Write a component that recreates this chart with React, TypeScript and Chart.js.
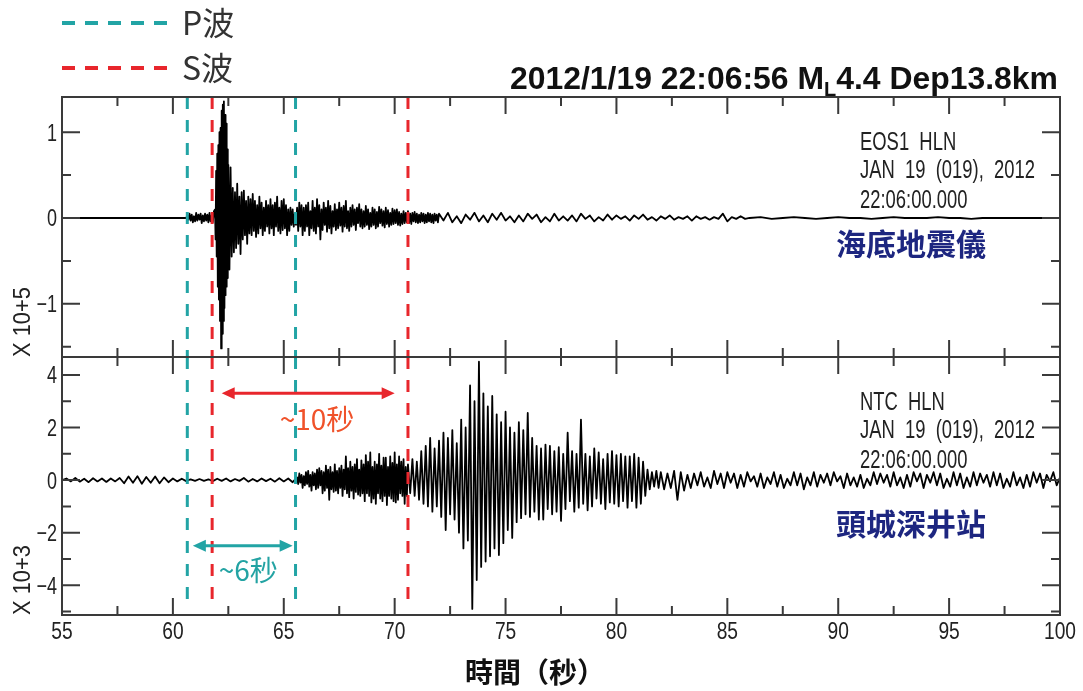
import React, { useEffect, useRef } from 'react';
import { Chart, registerables } from 'chart.js';

Chart.register(...registerables);

// ================= DATA =================
// x axis (seconds)
const timeLimits = [55, 100];
const timeTickStep = 2.5;
const timeMajorEvery = 5;
// y axes
const topLimits = [-1.62, 1.41]; // x10^5
const topTickStep = 0.5;
const bottomLimits = [-5.13, 4.68]; // x10^3
const bottomTickStep = 1;
// phase picks (s)
const pArrivals = [60.65, 65.53];
const sArrivals = [61.77, 70.6];
const markerBottomEnd = -4.55;

// EOS1 HLN (ocean-bottom seismometer), values x10^5, segments [start, step, values]
const eosQuiet = [0, 0, 0, 0, 0, 0, 0, 0, 0, 0, 0, 0];
const eosPWave = [0, 0.03, -0.02, 0.05, -0.03, 0.04, -0.05, 0.02, -0.04, 0.06, -0.03, 0.04, -0.02, 0.05, -0.06, 0.03, -0.04, 0.05, -0.03, 0.04, -0.05, 0.06, -0.04, 0.03, -0.05, 0.08];
const eosBurst = [0.1, -0.25, 0.55, -0.45, 0.75, -0.8, 0.85, -0.95, 1.0, -1.2, 1.05, -1.52, 1.25, -1.35, 1.32, -1.2, 1.36, -1.05, 1.2, -0.9, 1.1, -0.8, 0.8, -0.7];
const eosCodaA = [
  0.62, -0.6, 0.59, -0.45, 0.35, -0.4, 0.3, -0.35, 0.4, -0.3,
  0.25, -0.42, 0.3, -0.25, 0.32, -0.2, 0.2, -0.3, 0.25, -0.18,
  0.22, -0.2, 0.28, -0.15, 0.2, -0.22, 0.15, -0.18, 0.25, -0.12,
  0.18, -0.2, 0.12, -0.15, 0.2, -0.1, 0.15, -0.18, 0.22, -0.12,
  0.15, -0.2, 0.18, -0.1, 0.25, -0.15, 0.12, -0.18, 0.2, -0.14,
  0.22, -0.12, 0.15, -0.2, 0.1, -0.15, 0.12, -0.08, 0.1, -0.1,
  0.05, -0.08, 0.12, -0.15, 0.18, -0.1, 0.15, -0.2, 0.12, -0.15,
];
const eosCodaB = [
  0.15, -0.1, 0.18, -0.2, 0.08, -0.12, 0.2, -0.15, 0.12, -0.18,
  0.22, -0.1, 0.15, -0.25, 0.1, -0.14, 0.18, -0.08, 0.12, -0.16,
  0.2, -0.12, 0.14, -0.18, 0.08, -0.1, 0.16, -0.14, 0.1, -0.12,
  0.18, -0.09, 0.12, -0.16, 0.14, -0.1, 0.2, -0.12, 0.08, -0.15,
  0.12, -0.1, 0.15, -0.08, 0.1, -0.14, 0.12, -0.06, 0.16, -0.1,
  0.1, -0.12, 0.08, -0.1, 0.14, -0.08, 0.1, -0.13, 0.06, -0.1,
  0.12, -0.08, 0.1, -0.12, 0.07, -0.1, 0.13, -0.06, 0.1, -0.09,
  0.08, -0.11, 0.12, -0.07, 0.09, -0.1, 0.06, -0.08, 0.11, -0.07,
  0.09, -0.06, 0.1, -0.08, 0.07, -0.09, 0.05, -0.07, 0.08, -0.06,
  0.06, -0.05, 0.08, -0.06, 0.05, -0.07, 0.06, -0.04, 0.07, -0.05,
  0.05, -0.06, 0.04, -0.05, 0.06, -0.04, 0.05, -0.06, 0.04, -0.05,
  0.06, -0.04, 0.05, -0.05, 0.04, -0.06, 0.05, -0.03, 0.04, -0.05,
];
const eosCodaC = [
  0.05, -0.03, 0.06, -0.05, 0.02, -0.06, 0.04, -0.02, 0.06, -0.04,
  0.03, -0.05, 0.05, -0.02, 0.06, -0.03, 0.02, -0.05, 0.03, -0.04,
  0.05, -0.01, 0.04, -0.05, 0.01, -0.04, 0.05, -0.03, 0.02, -0.03,
  0.03, -0.04, 0.05, -0.01, 0.03, -0.04, 0.01, -0.03, 0.04, -0.02,
  0.03, -0.01, 0.02, -0.03, 0.03, -0.01, 0.04, -0.02, 0.01, -0.03,
  0.02, -0.01, 0.03, -0.02, 0.01, -0.01, 0.02, -0.03, 0.02, -0.01,
  0.01, -0.02, 0.01, -0.01, 0.05, -0.04, 0.01, -0.01, 0.02, -0.01,
];
const eosTail = [0, 0.01, -0.01, 0, 0.01, 0, -0.01, 0, 0.01, 0, 0, -0.01, 0, 0.01, 0, 0, 0, 0.01, 0, 0, -0.01, 0, 0, 0, 0, 0, 0, 0, 0];

// NTC HLN (deep-well station), values x10^3
const ntcQuiet = [
  0, 0.06, -0.05, 0.08, -0.06, 0.05, -0.08, 0.07, -0.05, 0.06,
  -0.07, 0.06, -0.05, 0.08, -0.12, 0.14, -0.1, 0.15, -0.14, 0.12,
  -0.1, 0.14, -0.12, 0.1, -0.08, 0.06, -0.05, 0.05, -0.04, 0.03,
  -0.03, 0.04, -0.03, 0.03, -0.04, 0.05, -0.03, 0.06, -0.05, 0.04,
  -0.03, 0.08, -0.06, 0.04, -0.05, 0.06, -0.04, 0.05, -0.06, 0.07,
  -0.05, 0.06, -0.08,
];
const ntcPCoda = [
  0.1, -0.15, 0.25, -0.1, 0.2, -0.3, 0.15, -0.2, 0.3, -0.15,
  0.35, -0.25, 0.2, -0.4, 0.3, -0.2, 0.25, -0.35, 0.4, -0.3,
  0.45, -0.2, 0.35, -0.5, 0.3, -0.4, 0.55, -0.3, 0.4, -0.75,
  0.5, -0.35, 0.3, -0.45, 0.6, -0.4, 0.35, -0.5, 0.45, -0.3,
  0.55, -0.6, 0.4, -0.35, 0.9, -0.5, 0.45, -0.65, 0.7, -0.4,
  0.5, -0.7, 0.6, -0.45, 0.8, -0.55, 0.4, -0.6, 0.75, -0.5,
  0.6, -0.8, 0.95, -0.5, 0.7, -0.6, 1.05, -0.85, 0.5, -0.7,
  0.7, -0.9, 0.6, -0.5, 1.0, -0.7, 0.55, -0.8, 0.85, -0.6,
  0.85, -0.95, 0.5, -0.6, 0.9, -0.7, 0.65, -0.8, 1.05, -0.85,
  0.6, -0.75, 0.9, -0.5, 0.7, -0.6, 0.8, -0.9, 0.5, -0.6,
];
const ntcSWave = [
  0.6, -0.5, 0.8, -0.6, 0.7, -0.75, 1.1, -0.9, 1.3, -1.0,
  1.6, -1.2, 1.2, -1.0, 1.5, -1.4, 1.8, -1.9, 1.6, -1.3,
  1.9, -1.5, 1.4, -2.0, 2.3, -2.6, 2.0, -2.3, 3.6, -4.9,
  3.0, -3.8, 4.5, -3.3, 3.3, -3.1, 2.8, -2.9, 3.2, -2.6,
  2.5, -2.85, 2.2, -2.4, 2.6, -1.9, 2.0, -2.2, 1.8, -1.6,
  2.2, -1.45, 1.9, -1.3, 2.55, -1.4, 1.6, -1.2, 1.3, -1.5,
  1.2, -1.5, 1.35, -1.1, 1.3, -1.3, 1.1, -1.2, 1.25, -1.55,
  1.0, -1.1, 1.8, -0.8, 1.1, -1.2, 1.0, -1.05, 2.3, -0.9,
  1.0, -1.15, 0.9, -1.0, 1.2, -0.7, 1.05, -0.9, 0.8, -1.1,
  1.0, -0.85, 1.1, -0.9, 0.95, -1.0, 1.0, -0.8, 0.9, -1.05,
  0.9, -0.8, 1.0, -1.05, 0.85, -0.9, 0.7, -0.6, 0.4, -0.35,
  0.3, -0.25, 0.35, -0.3,
];
const ntcTail = [
  0.3, -0.35, 0.25, -0.3, 0.35, -0.75, 0.3, -0.4, 0.2, -0.3,
  0.25, -0.2, 0.3, -0.25, 0.1, -0.3, 0.35, -0.15, 0.25, -0.3,
  0.3, -0.1, 0.25, -0.3, 0.2, -0.25, 0.3, -0.05, 0.15, -0.25,
  0.25, -0.3, 0.1, -0.15, 0.3, -0.25, 0.2, -0.3, 0.05, -0.2,
  0.3, -0.2, 0.25, -0.35, 0.1, -0.2, 0.3, -0.25, 0.2, -0.1,
  0.25, -0.2, 0.3, -0.05, 0.15, -0.3, 0.25, -0.2, 0.1, -0.25,
  0.2, -0.3, 0.05, -0.2, 0.3, -0.15, 0.25, -0.1, 0.2, -0.25,
  0.3, -0.2, 0.1, -0.3, 0.2, -0.25, 0.3, -0.05, 0.25, -0.3,
  0.2, -0.1, 0.3, -0.2, 0.25, -0.3, 0.05, -0.25, 0.3, -0.2,
  0.25, -0.3, 0.1, -0.25, 0.3, -0.2, 0.25, -0.1, 0.2, -0.25,
  0.3, -0.2, 0.25, -0.3, 0.05, -0.25, 0.3, -0.2, 0.1, -0.3,
  0.2, -0.25, 0.3, -0.1, 0.25, -0.3, 0.2, -0.05, 0.3, -0.2,
  0.1,
];

// segment tables [start time, sample step, values]
const eosSegments: [number, number, number[]][] = [
  [55, 0.5, eosQuiet],
  [60.6, 0.05, eosPWave],
  [61.9, 0.025, eosBurst],
  [62.5, 0.05, eosCodaA],
  [66.0, 0.05, eosCodaB],
  [72.0, 0.2, eosCodaC],
  [86.0, 0.5, eosTail],
];
const ntcSegments: [number, number, number[]][] = [
  [55, 0.2, ntcQuiet],
  [65.6, 0.05, ntcPCoda],
  [70.6, 0.1, ntcSWave],
  [82.0, 0.15, ntcTail],
];

// texts
const titleParts = ['2012/1/19 22:06:56 M', 'L', '4.4 Dep13.8km'];
const topStationLines = ['EOS1  HLN', 'JAN  19  (019),  2012', '22:06:00.000'];
const bottomStationLines = ['NTC  HLN', 'JAN  19  (019),  2012', '22:06:00.000'];
const topStationName = '海底地震儀';
const bottomStationName = '頭城深井站';
const topScaleLabel = 'X 10+5';
const bottomScaleLabel = 'X 10+3';
const xTitle = '時間（秒）';
const pLabel = 'P波';
const sLabel = 'S波';

// ================= STYLE =================
const P_COLOR = '#22a4a5';
const S_COLOR = '#e8262c';
const FRAME = '#3a3a3a';
const NAVY = '#1d2680';
const TICK_FONT = '"Liberation Sans", Arial, sans-serif';
const CJK = '"Noto Sans CJK TC", "Noto Sans CJK SC", sans-serif';

const arrowNotes = [
  { from: 62.2, to: 70.0, at: 3.3, color: S_COLOR, text: '~10秒', textColor: '#f0522a', tx: 66.5, ty: 2.3 },
  { from: 60.9, to: 65.4, at: -2.5, color: P_COLOR, text: '~6秒', textColor: '#23a3a3', tx: 63.4, ty: -3.45 },
];

function buildTrace(segments: [number, number, number[]][]) {
  const pts: { x: number; y: number }[] = [];
  for (const [start, step, vals] of segments) {
    vals.forEach((v, i) => pts.push({ x: Math.round((start + i * step) * 1000) / 1000, y: v }));
  }
  return pts;
}

function isMult(v: number, m: number) {
  const r = v / m;
  return Math.abs(r - Math.round(r)) < 1e-6;
}

function fmt(v: number) {
  const r = Math.round(v * 100) / 100;
  if (r === 0) return '0';
  return r < 0 ? '\u2212' + String(Math.abs(r)) : String(r);
}

function drawText(
  ctx: CanvasRenderingContext2D, str: string, x: number, y: number, font: string, color: string,
  align: 'left' | 'center' | 'right' = 'left', baseline: CanvasTextBaseline = 'alphabetic', sx = 1,
) {
  ctx.save();
  ctx.font = font;
  ctx.fillStyle = color;
  ctx.textBaseline = baseline;
  ctx.textAlign = 'left';
  const w = ctx.measureText(str).width * sx;
  const left = align === 'left' ? x : align === 'center' ? x - w / 2 : x - w;
  ctx.translate(left, y);
  ctx.scale(sx, 1);
  ctx.fillText(str, 0, 0);
  ctx.restore();
  return w;
}

function drawArrow(ctx: CanvasRenderingContext2D, x1: number, x2: number, y: number, color: string) {
  const head = 13, hw = 6;
  ctx.save();
  ctx.strokeStyle = color;
  ctx.fillStyle = color;
  ctx.lineWidth = 3;
  ctx.beginPath();
  ctx.moveTo(x1 + head - 2, y);
  ctx.lineTo(x2 - head + 2, y);
  ctx.stroke();
  ctx.beginPath();
  ctx.moveTo(x1, y); ctx.lineTo(x1 + head, y - hw); ctx.lineTo(x1 + head, y + hw); ctx.closePath();
  ctx.moveTo(x2, y); ctx.lineTo(x2 - head, y - hw); ctx.lineTo(x2 - head, y + hw); ctx.closePath();
  ctx.fill();
  ctx.restore();
}

const framePlugin = {
  id: 'seismoFrame',
  afterDatasetsDraw(chart: any) {
    const ctx: CanvasRenderingContext2D = chart.ctx;
    const x = chart.scales.x;
    const panels = [
      { s: chart.scales.yTop, major: (v: number) => isMult(v, 1), label: topScaleLabel },
      { s: chart.scales.yBottom, major: (v: number) => isMult(v, 2), label: bottomScaleLabel },
    ];
    ctx.save();
    ctx.strokeStyle = FRAME;
    ctx.lineWidth = 2;
    for (const p of panels) {
      const ys = p.s;
      ctx.strokeRect(x.left, ys.top, x.right - x.left, ys.bottom - ys.top);
      ctx.beginPath();
      for (const t of x.ticks) {
        const px = x.getPixelForValue(t.value);
        if (px <= x.left + 1 || px >= x.right - 1) continue;
        const len = isMult(t.value, timeMajorEvery) ? 17 : 9;
        ctx.moveTo(px, ys.top); ctx.lineTo(px, ys.top + len);
        ctx.moveTo(px, ys.bottom); ctx.lineTo(px, ys.bottom - len);
      }
      for (const t of ys.ticks) {
        const py = ys.getPixelForValue(t.value);
        if (py <= ys.top + 1 || py >= ys.bottom - 1) continue;
        const len = p.major(t.value) ? 18 : 9;
        ctx.moveTo(x.left, py); ctx.lineTo(x.left + len, py);
        ctx.moveTo(x.right, py); ctx.lineTo(x.right - len, py);
      }
      ctx.stroke();
      for (const t of ys.ticks) {
        if (!p.major(t.value)) continue;
        const py = ys.getPixelForValue(t.value);
        drawText(ctx, fmt(t.value), x.left - 5, py + 8.5, '24px ' + TICK_FONT, '#222', 'right', 'alphabetic', 0.75);
      }
      // scale factor label, rotated, anchored at panel bottom
      ctx.save();
      ctx.translate(30, ys.bottom);
      ctx.rotate(-Math.PI / 2);
      drawText(ctx, p.label, 0, 0, '23px ' + TICK_FONT, '#222', 'left', 'alphabetic', 0.95);
      ctx.restore();
    }
    ctx.restore();
    // x tick labels
    const yb = chart.scales.yBottom;
    for (const t of x.ticks) {
      if (!isMult(t.value, timeMajorEvery)) continue;
      const px = x.getPixelForValue(t.value);
      drawText(ctx, fmt(t.value), px, yb.bottom + 24, '24px ' + TICK_FONT, '#222', 'center', 'alphabetic', 0.8);
    }
    drawText(ctx, xTitle, 535, 672, 'bold 28px ' + CJK, '#111', 'center', 'middle');
  },
};

const notesPlugin = {
  id: 'seismoNotes',
  afterDraw(chart: any) {
    const ctx: CanvasRenderingContext2D = chart.ctx;
    const x = chart.scales.x;
    const yT = chart.scales.yTop;
    const yB = chart.scales.yBottom;

    // legend from marker datasets
    const seen = new Map<string, string>();
    chart.data.datasets.forEach((ds: any) => {
      if (Array.isArray(ds.borderDash) && ds.borderDash.length && !seen.has(ds.label)) seen.set(ds.label, ds.borderColor);
    });
    let i = 0;
    for (const [label, color] of seen) {
      const cy = 23 + i * 45;
      ctx.save();
      ctx.strokeStyle = color;
      ctx.lineWidth = 4;
      ctx.setLineDash([13, 10]);
      ctx.beginPath();
      ctx.moveTo(x.left, cy);
      ctx.lineTo(x.left + 105, cy);
      ctx.stroke();
      ctx.restore();
      drawText(ctx, label, 182, cy + 12, '32px ' + CJK, '#333', 'left', 'alphabetic');
      i++;
    }

    // title with subscript
    ctx.save();
    ctx.font = 'bold 32px ' + TICK_FONT;
    const w1 = ctx.measureText(titleParts[0]).width;
    const w3 = ctx.measureText(titleParts[2]).width;
    ctx.font = 'bold 20px ' + TICK_FONT;
    const w2 = ctx.measureText(titleParts[1]).width;
    ctx.restore();
    const target = 548;
    const sx = target / (w1 + w2 + w3);
    const left = x.right - 2 - target;
    drawText(ctx, titleParts[0], left, 89, 'bold 32px ' + TICK_FONT, '#111', 'left', 'alphabetic', sx);
    drawText(ctx, titleParts[1], left + w1 * sx, 96, 'bold 20px ' + TICK_FONT, '#111', 'left', 'alphabetic', sx);
    drawText(ctx, titleParts[2], left + (w1 + w2) * sx, 89, 'bold 32px ' + TICK_FONT, '#111', 'left', 'alphabetic', sx);

    // station info blocks
    const blocks = [
      { s: yT, lines: topStationLines, name: topStationName, nameDy: 147 },
      { s: yB, lines: bottomStationLines, name: bottomStationName, nameDy: 167 },
    ];
    ctx.save();
    ctx.font = '25px ' + TICK_FONT;
    const jw = ctx.measureText(topStationLines[1]).width;
    ctx.restore();
    const ssx = 175 / jw;
    for (const b of blocks) {
      const offs = [53, 81, 111];
      b.lines.forEach((ln, k) => drawText(ctx, ln, 860, b.s.top + offs[k], '25px ' + TICK_FONT, '#222', 'left', 'alphabetic', ssx));
      drawText(ctx, b.name, 911, b.s.top + b.nameDy, 'bold 30px ' + CJK, NAVY, 'center', 'middle');
    }

    // arrows + durations
    for (const a of arrowNotes) {
      drawArrow(ctx, x.getPixelForValue(a.from), x.getPixelForValue(a.to), yB.getPixelForValue(a.at), a.color);
      drawText(ctx, a.text, x.getPixelForValue(a.tx), yB.getPixelForValue(a.ty), '28px ' + CJK, a.textColor, 'center', 'middle');
    }
  },
};

export default function App() {
  const canvasRef = useRef<HTMLCanvasElement | null>(null);

  useEffect(() => {
    const canvas = canvasRef.current;
    if (!canvas) return;

    const traceStyle = { borderColor: '#000', borderWidth: 1.8, pointRadius: 0, borderJoinStyle: 'round', fill: false, order: 2 };
    const markerSets: any[] = [];
    const addMarkers = (times: number[], label: string, color: string) => {
      times.forEach((t) => {
        markerSets.push({ label, data: [{ x: t, y: topLimits[1] }, { x: t, y: topLimits[0] }], yAxisID: 'yTop', borderColor: color, borderWidth: 3, borderDash: [12, 11], pointRadius: 0, order: 0 });
        markerSets.push({ label, data: [{ x: t, y: bottomLimits[1] }, { x: t, y: markerBottomEnd }], yAxisID: 'yBottom', borderColor: color, borderWidth: 3, borderDash: [12, 11], pointRadius: 0, order: 0 });
      });
    };
    addMarkers(pArrivals, pLabel, P_COLOR);
    addMarkers(sArrivals, sLabel, S_COLOR);

    const hidden = { display: false, drawTicks: false };
    const chart = new Chart(canvas, {
      type: 'line',
      data: {
        datasets: [
          ...markerSets,
          { label: 'EOS1 HLN', data: buildTrace(eosSegments), yAxisID: 'yTop', ...traceStyle },
          { label: 'NTC HLN', data: buildTrace(ntcSegments), yAxisID: 'yBottom', ...traceStyle },
        ] as any,
      },
      options: {
        animation: false,
        responsive: false,
        devicePixelRatio: 1,
        events: [],
        layout: { padding: { left: 62, right: 23, top: 97, bottom: 76 }, autoPadding: false },
        plugins: { legend: { display: false }, tooltip: { enabled: false }, title: { display: false } },
        elements: { line: { tension: 0 }, point: { radius: 0 } },
        scales: {
          x: {
            type: 'linear', min: timeLimits[0], max: timeLimits[1],
            ticks: { display: false, stepSize: timeTickStep, includeBounds: false },
            grid: hidden, border: { display: false },
          },
          yBottom: {
            type: 'linear', position: 'left', stack: 'panels', stackWeight: 258,
            min: bottomLimits[0], max: bottomLimits[1],
            ticks: { display: false, stepSize: bottomTickStep, includeBounds: false },
            grid: hidden, border: { display: false },
          },
          yTop: {
            type: 'linear', position: 'left', stack: 'panels', stackWeight: 260,
            min: topLimits[0], max: topLimits[1],
            ticks: { display: false, stepSize: topTickStep, includeBounds: false },
            grid: hidden, border: { display: false },
          },
        },
      } as any,
      plugins: [framePlugin, notesPlugin],
    });
    return () => chart.destroy();
  }, []);

  return (
    <div style={{ position: 'absolute', left: 0, top: 0, width: 1083, height: 691, background: '#fff' }}>
      <canvas ref={canvasRef} width={1083} height={691} style={{ display: 'block', width: 1083, height: 691 }} />
    </div>
  );
}
